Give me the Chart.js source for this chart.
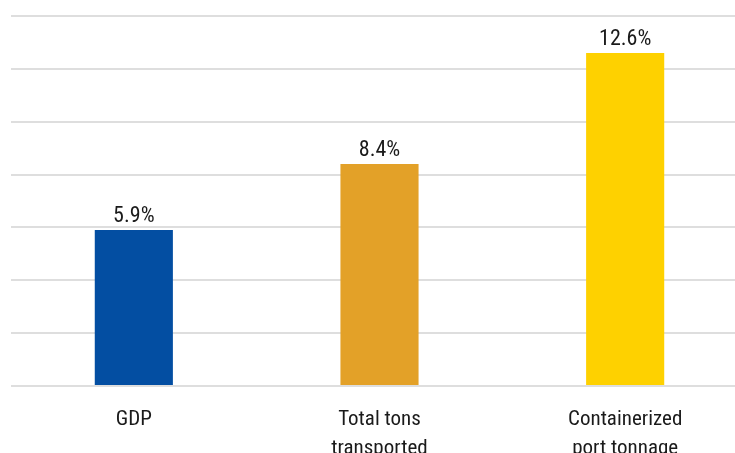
<!DOCTYPE html>
<html>
<head>
<meta charset="utf-8">
<script src="https://cdn.jsdelivr.net/npm/chart.js@4/dist/chart.umd.min.js"></script>
<style>
  html, body { margin: 0; padding: 0; background: #fff; overflow: hidden; }
  #wrap { width: 748px; height: 453px; }
</style>
</head>
<body>
<div id="wrap"><canvas id="myChart"></canvas></div>
<script>
var categories = [['GDP'], ['Total tons', 'transported'], ['Containerized', 'port tonnage']];
var growth     = [5.9, 8.4, 12.6];
var barColors  = ['#034ea2', '#e3a128', '#fed100'];

var police = '"Liberation Sans Narrow", "Roboto Condensed", "DejaVu Sans Condensed", sans-serif';

// etiquettes au-dessus des barres
var etiquettes = {
    id: 'etiquettes',
    afterDatasetsDraw: function(chart) {
        var ctx = chart.ctx;
        var meta = chart.getDatasetMeta(0);
        ctx.save();
        ctx.font = '22px ' + police;
        ctx.fillStyle = '#1a1a1a';
        ctx.textAlign = 'center';
        ctx.textBaseline = 'alphabetic';
        meta.data.forEach(function(bar, i) {
            ctx.fillText(growth[i].toFixed(1) + '%', bar.x, bar.y - 8);
        });
        ctx.restore();
    }
};

var canvas  = document.getElementById('myChart');
var context = canvas.getContext('2d');

var myChart = new Chart(context, {
    type: 'bar',
    data: {
        labels: categories,
        datasets: [{
            data: growth,
            backgroundColor: barColors,
            borderWidth: 0,
            barPercentage: 0.318,
            categoryPercentage: 1
        }]
    },
    options: {
        responsive: true,
        maintainAspectRatio: false,
        animation: false,
        layout: { padding: { left: 11, top: 16, right: 0, bottom: 0 } },
        plugins: {
            legend: { display: false },
            tooltip: { enabled: false }
        },
        scales: {
            x: {
                grid: { display: false },
                border: { display: false },
                ticks: {
                    color: '#1a1a1a',
                    font: { family: police, size: 21, lineHeight: 1.38 },
                    padding: 11,
                    maxRotation: 0
                },
                afterFit: function(scale) { scale.height = 67; }
            },
            y: {
                min: 0,
                max: 14,
                ticks: { display: false, stepSize: 2 },
                grid: { color: '#dedede', lineWidth: 2, drawTicks: false },
                border: { display: false }
            }
        }
    },
    plugins: [etiquettes]
});
</script>
</body>
</html>
